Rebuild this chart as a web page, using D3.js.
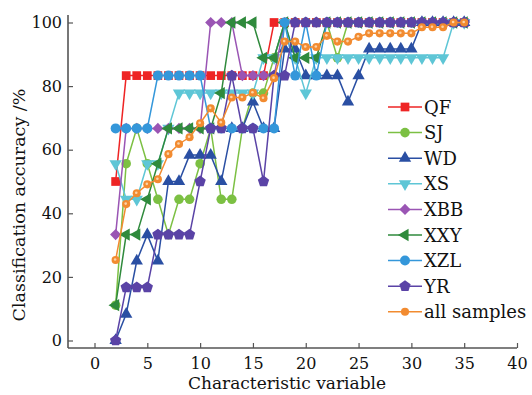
<!DOCTYPE html>
<html>
<head>
<meta charset="utf-8">
<script src="https://cdn.jsdelivr.net/npm/d3@7"></script>
<style>
  html, body { margin: 0; padding: 0; background: #fff; }
  text { font-family: 'DejaVu Serif', serif; fill: #111; }
</style>
</head>
<body>
<div id="chart"></div>
<script>
// number of characteristic variables
const features = [2, 3, 4, 5, 6, 7, 8, 9, 10, 11, 12, 13, 14, 15, 16, 17, 18,
  19, 20, 21, 22, 23, 24, 25, 26, 27, 28, 29, 30, 31, 32, 33, 34, 35];

const qf = [50, 83.3, 83.3, 83.3, 83.3, 83.3, 83.3, 83.3, 83.3, 83.3, 83.3, 83.3, 83.3, 83.3, 83.3, 100, 100,
  100, 100, 100, 100, 100, 100, 100, 100, 100, 100, 100, 100, 100, 100, 100, 100, 100];
const sj = [11.1, 55.6, 66.7, 55.6, 44.4, 33.3, 44.4, 44.4, 55.6, 66.7, 44.4, 44.4, 66.7, 77.8, 77.8, 88.9, 100,
  100, 100, 100, 100, 88.9, 100, 100, 100, 100, 100, 100, 100, 100, 100, 100, 100, 100];
const wd = [0, 8.3, 25, 33.3, 25, 50, 50, 58.3, 58.3, 58.3, 50, 66.7, 66.7, 75, 66.7, 66.7, 91.7,
  91.7, 83.3, 83.3, 83.3, 83.3, 75, 83.3, 91.7, 91.7, 91.7, 91.7, 91.7, 100, 100, 100, 100, 100];
const xs = [55.6, 44.4, 44.4, 55.6, 55.6, 66.7, 77.8, 77.8, 77.8, 77.8, 77.8, 77.8, 77.8, 77.8, 88.9, 88.9, 100,
  88.9, 77.8, 88.9, 88.9, 88.9, 88.9, 88.9, 88.9, 88.9, 88.9, 88.9, 88.9, 88.9, 88.9, 88.9, 100, 100];
const xbb = [33.3, 66.7, 66.7, 66.7, 66.7, 66.7, 66.7, 66.7, 66.7, 100, 100, 100, 83.3, 83.3, 83.3, 83.3, 100,
  100, 100, 100, 100, 100, 100, 100, 100, 100, 100, 100, 100, 100, 100, 100, 100, 100];
const xxy = [11.1, 33.3, 33.3, 44.4, 55.6, 66.7, 66.7, 66.7, 66.7, 66.7, 77.8, 100, 100, 100, 88.9, 88.9, 100,
  88.9, 88.9, 88.9, 100, 100, 100, 100, 100, 100, 100, 100, 100, 100, 100, 100, 100, 100];
const xzl = [66.7, 66.7, 66.7, 66.7, 83.3, 83.3, 83.3, 83.3, 83.3, 66.7, 66.7, 66.7, 66.7, 66.7, 66.7, 66.7, 100,
  83.3, 100, 83.3, 100, 100, 100, 100, 100, 100, 100, 100, 100, 100, 100, 100, 100, 100];
const yr = [0, 16.7, 16.7, 16.7, 33.3, 33.3, 33.3, 33.3, 50, 66.7, 66.7, 83.3, 66.7, 66.7, 50, 83.3, 83.3,
  100, 100, 100, 100, 100, 100, 100, 100, 100, 100, 100, 100, 100, 100, 100, 100, 100];
const allSamples = [25.3, 42.9, 46.3, 49.1, 50.7, 58.6, 61.8, 63.9, 68.3, 73.0, 68.5, 76.4, 76.4, 77.9, 76.2, 82.5, 94.0,
  94.0, 92.3, 92.3, 95.8, 94.0, 94.0, 95.5, 96.6, 96.6, 96.6, 96.6, 96.6, 98.5, 98.5, 98.5, 100, 100];

const xTicks = [0, 5, 10, 15, 20, 25, 30, 35, 40];
const yTicks = [0, 20, 40, 60, 80, 100];

// pentagon marker, not in d3's symbol set
const pentagon = {
  draw(ctx, size) {
    const r = Math.sqrt(size / 2.378);
    for (let i = 0; i < 5; i++) {
      const a = -Math.PI / 2 + i * 2 * Math.PI / 5;
      const px = r * Math.cos(a), py = r * Math.sin(a);
      if (i === 0) ctx.moveTo(px, py); else ctx.lineTo(px, py);
    }
    ctx.closePath();
  }
};

const series = [
  {name: 'QF', values: qf, color: '#ee2424', sym: d3.symbolSquare, size: 76, rot: 0},
  {name: 'SJ', values: sj, color: '#7cc043', sym: d3.symbolCircle, size: 72, rot: 0},
  {name: 'WD', values: wd, color: '#2a4fa3', sym: d3.symbolTriangle, size: 66, rot: 0},
  {name: 'XS', values: xs, color: '#5ec6d6', sym: d3.symbolTriangle, size: 66, rot: 180},
  {name: 'XBB', values: xbb, color: '#9a55b4', sym: d3.symbolSquare, size: 62, rot: 45},
  {name: 'XXY', values: xxy, color: '#2f8a3c', sym: d3.symbolTriangle, size: 66, rot: -90},
  {name: 'XZL', values: xzl, color: '#3497da', sym: d3.symbolCircle, size: 78, rot: 0},
  {name: 'YR', values: yr, color: '#5a43a6', sym: pentagon, size: 84, rot: 0},
  {name: 'all samples', values: allSamples, color: '#f28b30', sym: d3.symbolCircle, size: 52, rot: 0}
];

const W = 532, H = 395;
const svg = d3.select('#chart').append('svg')
  .attr('width', W).attr('height', H)
  .style('background', '#fff');

const x = d3.scaleLinear().domain([0, 40]).range([94.5, 517]);
const y = d3.scaleLinear().domain([0, 100]).range([340.5, 22.5]);
const xLeft = 68, yBottom = 348, yTop = 15;

// axes
const axisColor = '#555';
const gx = svg.append('g').attr('transform', `translate(0,${yBottom})`)
  .call(d3.axisBottom(x).tickValues(xTicks).tickSizeInner(-5).tickSizeOuter(0).tickPadding(10));
gx.select('.domain').attr('d', `M${xLeft},0H${x(40)}`);
const gy = svg.append('g').attr('transform', `translate(${xLeft},0)`)
  .call(d3.axisLeft(y).tickValues(yTicks).tickSizeInner(-5).tickSizeOuter(0).tickPadding(6));
gy.select('.domain').attr('d', `M0,${yTop}V${yBottom}`);
[gx, gy].forEach(g => {
  g.selectAll('.domain').attr('stroke', axisColor).attr('stroke-width', 1.6);
  g.selectAll('.tick line').attr('stroke', axisColor).attr('stroke-width', 1.2);
  g.selectAll('.tick text').style('font-family', "'DejaVu Serif', serif")
    .style('font-size', '16px').attr('fill', '#111');
});

svg.append('text').attr('x', 287).attr('y', 389)
  .attr('text-anchor', 'middle').style('font-size', '17px')
  .text('Characteristic variable');
svg.append('text')
  .attr('transform', 'translate(25,205) rotate(-90)')
  .attr('text-anchor', 'middle').style('font-size', '17.5px')
  .text('Classification accuracy /%');

const line = d3.line().x((d, i) => x(features[i])).y(d => y(d));

// series lines and markers
series.forEach(s => {
  const g = svg.append('g');
  g.append('path').datum(s.values)
    .attr('d', line).attr('fill', 'none')
    .attr('stroke', s.color).attr('stroke-width', 1.5);
  g.selectAll('path.mk').data(s.values).enter().append('path')
    .attr('class', 'mk')
    .attr('d', d3.symbol().type(s.sym).size(s.size))
    .attr('transform', (d, i) => `translate(${x(features[i])},${y(d)}) rotate(${s.rot})`)
    .attr('fill', s.color);
  if (s.name === 'all samples') {
    g.selectAll('circle.hl').data(s.values).enter().append('circle')
      .attr('class', 'hl')
      .attr('cx', (d, i) => x(features[i]) - 0.5).attr('cy', d => y(d) - 0.5)
      .attr('r', 1.3).attr('fill', '#fbd3a8');
  }
});

// legend
const legend = svg.append('g');
series.forEach((s, i) => {
  const ly = 107 + i * 25.6;
  const g = legend.append('g').attr('transform', `translate(0,${ly})`);
  g.append('line').attr('x1', 388).attr('x2', 422).attr('y1', 0).attr('y2', 0)
    .attr('stroke', s.color).attr('stroke-width', 1.5);
  g.append('path').attr('d', d3.symbol().type(s.sym).size(s.size))
    .attr('transform', `translate(405,0) rotate(${s.rot})`).attr('fill', s.color);
  g.append('text').attr('x', 424).attr('y', 6.5).style('font-size', '18px').text(s.name);
});
</script>
</body>
</html>
